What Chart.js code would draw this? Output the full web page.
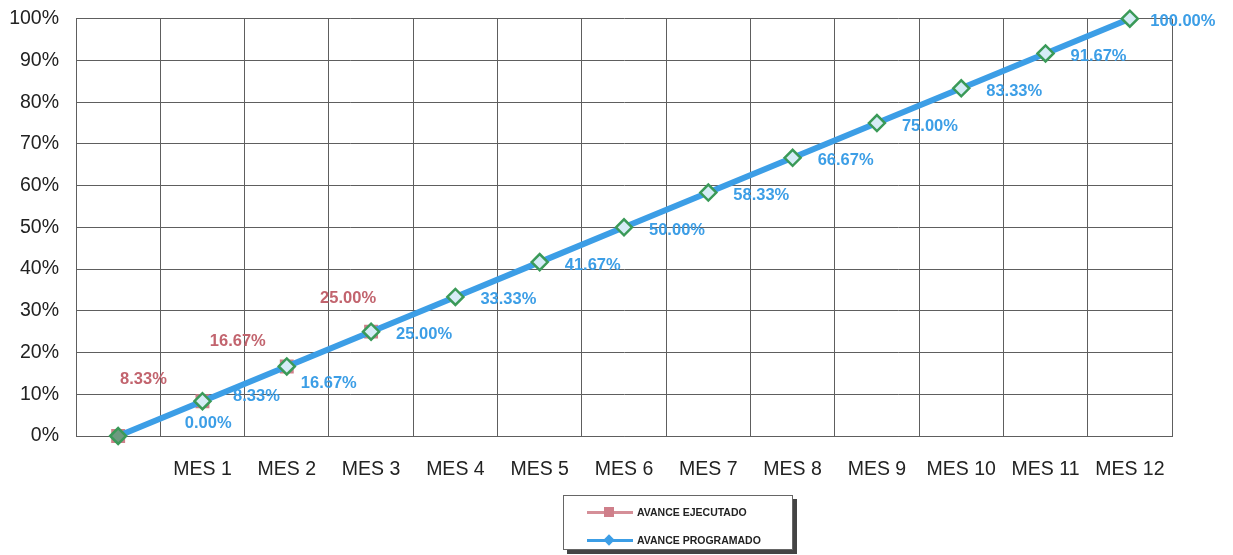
<!DOCTYPE html>
<html>
<head>
<meta charset="utf-8">
<script src="https://cdn.jsdelivr.net/npm/chart.js@4.4.1/dist/chart.umd.min.js"></script>
<style>
  html, body { margin: 0; padding: 0; background: #fff; overflow: hidden; }
  #wrap { position: relative; width: 1233px; height: 555px; overflow: hidden; }
  #grafico { position: absolute; left: 0; top: -10px; }
  #leyenda {
    position: absolute; left: 563px; top: 495px; width: 228px; height: 53px;
    border: 1px solid #666; background: #fff;
    box-shadow: 4px 4px 0 #444;
    font-family: "Liberation Sans", Arial, sans-serif; font-weight: bold; font-size: 10.5px; color: #222;
  }
  .item { position: absolute; left: 23px; display: flex; align-items: center; }
  .linea { position: relative; width: 46px; height: 3px; margin-right: 4px; }
  .marca { position: absolute; left: 17px; top: -4px; width: 10px; height: 10px; }
</style>
</head>
<body>
<div id="wrap">
  <canvas id="grafico" width="1233" height="565"></canvas>
  <div id="leyenda">
    <div class="item" style="top:10px">
      <div class="linea" style="background:#d58f98"><div class="marca" style="background:#cf7f8a"></div></div>
      <span>AVANCE EJECUTADO</span>
    </div>
    <div class="item" style="top:38px">
      <div class="linea" style="background:#3c9ee6"><div class="marca" style="background:#3c9ee6;transform:rotate(45deg) scale(0.8)"></div></div>
      <span>AVANCE PROGRAMADO</span>
    </div>
  </div>
</div>
<script>
// DATOS
const meses = ['', 'MES 1', 'MES 2', 'MES 3', 'MES 4', 'MES 5', 'MES 6', 'MES 7', 'MES 8', 'MES 9', 'MES 10', 'MES 11', 'MES 12'];
const avanceProgramado = [0, 8.33, 16.67, 25.00, 33.33, 41.67, 50.00, 58.33, 66.67, 75.00, 83.33, 91.67, 100.00];
const avanceEjecutado = [0, 8.33, 16.67, 25.00, null, null, null, null, null, null, null, null, null];
const etiquetasProgramado = ['0.00%', '8.33%', '16.67%', '25.00%', '33.33%', '41.67%', '50.00%', '58.33%', '66.67%', '75.00%', '83.33%', '91.67%', '100.00%'];
const etiquetasEjecutado = ['', '8.33%', '16.67%', '25.00%'];

const AZUL = '#3c9ee6';
const ROJO = '#c2646e';

// etiquetas de datos (sin plugin externo)
const etiquetasPlugin = {
  id: 'etiquetas',
  afterDatasetsDraw(chart) {
    const ctx = chart.ctx;
    ctx.save();
    ctx.font = 'bold 16.5px "Liberation Sans", Arial, sans-serif';
    ctx.textAlign = 'center';
    ctx.textBaseline = 'middle';

    // programado: a la derecha del punto
    const metaP = chart.getDatasetMeta(1);
    metaP.data.forEach((p, i) => {
      let dx = 53, dy = 3;
      if (i === 0) { dx = 90; dy = -13; }
      if (i === 1) { dx = 54; dy = -5; }
      if (i === 2) { dx = 42; dy = 17; }
      ctx.fillStyle = AZUL;
      ctx.fillText(etiquetasProgramado[i], p.x + dx, p.y + dy);
    });

    // ejecutado: arriba a la izquierda
    const desp = [[0, 0], [-59, -22], [-49, -25], [-23, -33]];
    const metaE = chart.getDatasetMeta(0);
    metaE.data.forEach((p, i) => {
      if (!etiquetasEjecutado[i] || avanceEjecutado[i] === null) return;
      ctx.fillStyle = ROJO;
      ctx.fillText(etiquetasEjecutado[i], p.x + desp[i][0], p.y + desp[i][1]);
    });
    ctx.restore();
  }
};

Chart.defaults.font.family = '"Liberation Sans", Arial, sans-serif';
Chart.defaults.color = '#222';

new Chart(document.getElementById('grafico').getContext('2d'), {
  type: 'line',
  data: {
    labels: meses,
    datasets: [
      {
        label: 'AVANCE EJECUTADO',
        data: avanceEjecutado,
        borderColor: '#d58f98',
        backgroundColor: '#cf7f8a',
        borderWidth: 4,
        pointStyle: 'rect',
        pointRadius: 7,
        pointBorderColor: '#cf7f8a',
        tension: 0,
        spanGaps: false,
        clip: false,
        order: 2
      },
      {
        label: 'AVANCE PROGRAMADO',
        data: avanceProgramado,
        borderColor: AZUL,
        borderWidth: 6,
        pointStyle: 'rectRot',
        pointRadius: 8,
        pointBorderWidth: 2.5,
        pointBorderColor: '#3a9a58',
        pointBackgroundColor: avanceProgramado.map((v, i) => i === 0 ? '#6d9a80' : '#d6ecf6'),
        tension: 0,
        clip: false,
        order: 1
      }
    ]
  },
  options: {
    responsive: false,
    animation: false,
    layout: { padding: { top: 7, right: 61, left: 0, bottom: 0 } },
    plugins: {
      legend: { display: false },
      tooltip: { enabled: false }
    },
    scales: {
      x: {
        offset: true,
        grid: { color: '#5e5e5e', lineWidth: 1, offset: true, drawTicks: false },
        border: { color: '#5e5e5e' },
        ticks: { font: { size: 19.5 }, color: '#222', padding: 22, maxRotation: 0, autoSkip: false },
        afterFit(scale) { scale.height = 119; }
      },
      y: {
        min: 0,
        max: 100,
        grid: { color: '#5e5e5e', lineWidth: 1, drawTicks: false },
        border: { color: '#5e5e5e' },
        ticks: {
          stepSize: 10,
          font: { size: 19.5 },
          color: '#222',
          padding: 17,
          callback: v => v + '%'
        },
        afterFit(scale) { scale.width = 76; }
      }
    }
  },
  plugins: [etiquetasPlugin]
});
</script>
</body>
</html>
